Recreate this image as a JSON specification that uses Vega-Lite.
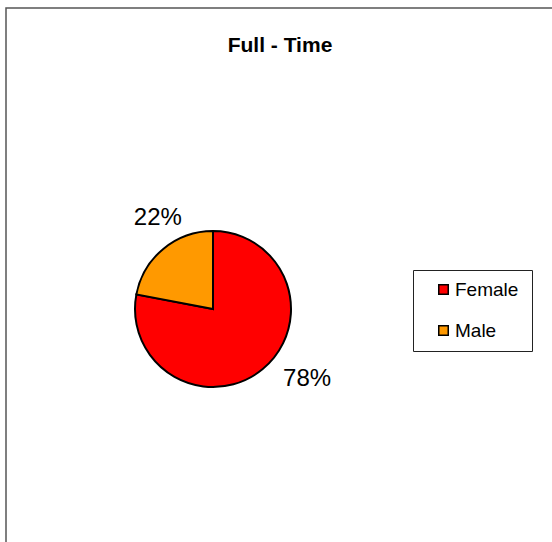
{
  "$schema": "https://vega.github.io/schema/vega-lite/v6.json",
  "autosize": {"type": "none"},
  "padding": {"left": 6, "top": 8, "right": 0, "bottom": 0},
  "width": 560,
  "height": 560,
  "background": "white",
  "title": {
    "text": "Full - Time",
    "font": "Liberation Sans",
    "fontSize": 21,
    "fontWeight": "bold",
    "color": "black",
    "anchor": "middle",
    "dx": -6,
    "dy": 22,
    "baseline": "alphabetic",
    "offset": -44
  },
  "config": {
    "view": {"stroke": null},
    "text": {"font": "Liberation Sans"}
  },
  "data": {
    "values": [
      {"gender": "Female", "value": 78, "label": "78%"},
      {"gender": "Male", "value": 22, "label": "22%"}
    ]
  },
  "layer": [
    {
      "data": {"values": [{"frame": "chart area"}]},
      "mark": {"type": "rect", "fill": null, "stroke": "#555555", "strokeWidth": 1.5},
      "encoding": {}
    },
    {
      "mark": {"type": "arc", "outerRadius": 78, "stroke": "black", "strokeWidth": 2, "x": 207, "y": 301},
      "encoding": {
        "theta": {"field": "value", "type": "quantitative", "stack": true},
        "order": {"field": "gender", "type": "nominal", "sort": "ascending"},
        "color": {
          "field": "gender",
          "type": "nominal",
          "scale": {"domain": ["Female", "Male"], "range": ["#FF0000", "#FF9900"]},
          "legend": {
            "title": "\u00a0",
            "titleOrient": "right",
            "titlePadding": 4,
            "titleFontSize": 8,
            "orient": "none",
            "legendX": 407,
            "legendY": 262,
            "padding": 10,
            "strokeColor": "#222222",
            "fillColor": "white",
            "symbolType": "square",
            "symbolSize": 90,
            "symbolStrokeColor": "black",
            "symbolStrokeWidth": 1.5,
            "symbolOpacity": 1,
            "symbolOffset": 11,
            "labelFont": "Liberation Sans",
            "labelFontSize": 19,
            "labelColor": "black",
            "labelOffset": 2,
            "rowPadding": 21
          }
        }
      }
    },
    {
      "mark": {"type": "text", "radius": 110, "x": 207, "y": 301, "dx": 24, "dy": -15, "fontSize": 24, "fill": "black", "align": "center", "baseline": "middle"},
      "encoding": {
        "theta": {"field": "value", "type": "quantitative", "stack": true},
        "order": {"field": "gender", "type": "nominal", "sort": "ascending"},
        "detail": {"field": "gender", "type": "nominal"},
        "text": {"condition": {"test": "datum.gender === 'Female'", "field": "label", "type": "nominal"}, "value": ""}
      }
    },
    {
      "mark": {"type": "text", "radius": 110, "x": 207, "y": 301, "dx": 15, "dy": -6, "fontSize": 24, "fill": "black", "align": "center", "baseline": "middle"},
      "encoding": {
        "theta": {"field": "value", "type": "quantitative", "stack": true},
        "order": {"field": "gender", "type": "nominal", "sort": "ascending"},
        "detail": {"field": "gender", "type": "nominal"},
        "text": {"condition": {"test": "datum.gender === 'Male'", "field": "label", "type": "nominal"}, "value": ""}
      }
    }
  ]
}
